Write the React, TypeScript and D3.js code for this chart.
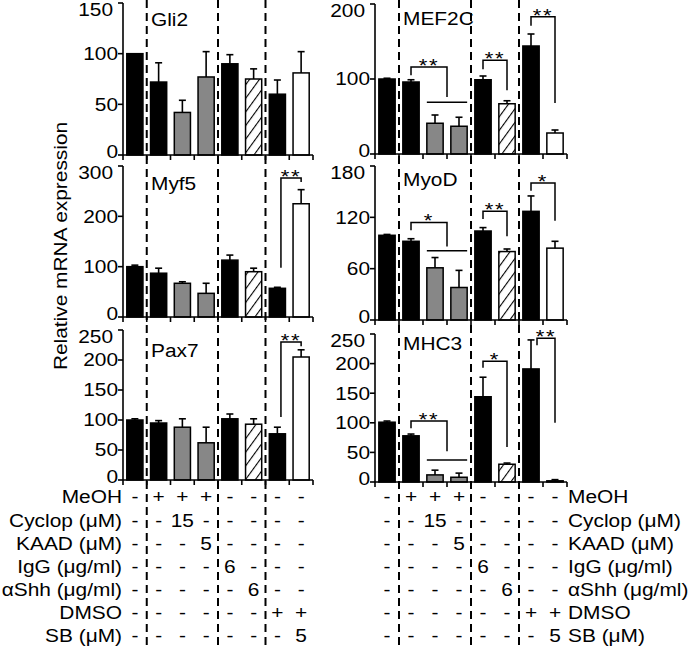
import React from "react";
import * as d3 from "d3";

const FONT = "Liberation Sans, Arial, sans-serif";
const STRETCH = 1.16; // the figure's type is drawn wide

// fill kind of each bar, left to right, same in every panel
const barKinds = ["black", "black", "gray", "gray", "black", "hatch", "black", "white"];

const gli2Values = [100, 72, 42, 77, 90, 75, 60, 81];
const gli2Errors = [0, 19, 12, 25, 9, 10, 14, 21];
const gli2Ticks = [0, 50, 100, 150];

const mef2cValues = [100, 96, 41, 37, 99, 67, 144, 28];
const mef2cErrors = [1, 3, 11, 12, 5, 4, 16, 4];
const mef2cTicks = [0, 100, 200];
const mef2cBrackets = [
  { left: 1, right: 2.5, top: 116, leftEnd: 105, rightEnd: 76, group: 69, label: "**" },
  { left: 4, right: 5, top: 125, leftEnd: 113, rightEnd: 85, label: "**" },
  { left: 6, right: 7, top: 183, leftEnd: 171, rightEnd: 68, label: "**" },
];

const myf5Values = [100, 87, 67, 47, 113, 90, 57, 225];
const myf5Errors = [3, 10, 3, 20, 10, 7, 2, 28];
const myf5Ticks = [0, 100, 200, 300];
const myf5Brackets = [
  { left: 6.15, right: 7, top: 276, leftEnd: 98, rightEnd: 268, label: "**" },
];

const myodValues = [99, 92, 61, 38, 104, 80, 127, 84];
const myodErrors = [1, 3, 12, 20, 4, 3, 18, 8];
const myodTicks = [0, 60, 120, 180];
const myodBrackets = [
  { left: 1, right: 2.5, top: 114, leftEnd: 105, rightEnd: 86, group: 81, label: "*" },
  { left: 4, right: 5, top: 127, leftEnd: 118, rightEnd: 98, label: "**" },
  { left: 6, right: 7, top: 160, leftEnd: 151, rightEnd: 116, label: "*" },
];

const pax7Values = [100, 95, 88, 62, 102, 93, 77, 205];
const pax7Errors = [2, 4, 14, 26, 8, 9, 11, 12];
const pax7Ticks = [0, 50, 100, 150, 200, 250];
const pax7Brackets = [
  { left: 6.15, right: 7, top: 230, leftEnd: 105, rightEnd: 223, label: "**" },
];

const mhc3Values = [101, 78, 12, 8, 144, 30, 191, 2];
const mhc3Errors = [2, 3, 8, 7, 33, 2, 49, 2];
const mhc3Ticks = [0, 50, 100, 150, 200, 250];
const mhc3Brackets = [
  { left: 1, right: 2.5, top: 103, leftEnd: 91, rightEnd: 52, group: 37, label: "**" },
  { left: 4, right: 5, top: 204, leftEnd: 193, rightEnd: 59, label: "*" },
  { left: 6.25, right: 7, top: 243, leftEnd: 231, rightEnd: 100, label: "**" },
];

const tableLabels = ["MeOH", "Cyclop (\u03bcM)", "KAAD (\u03bcM)", "IgG (\u03bcg/ml)", "\u03b1Shh (\u03bcg/ml)", "DMSO", "SB (\u03bcM)"];
const tableValues = [
  ["-", "+", "+", "+", "-", "-", "-", "-"],
  ["-", "-", "15", "-", "-", "-", "-", "-"],
  ["-", "-", "-", "5", "-", "-", "-", "-"],
  ["-", "-", "-", "-", "6", "-", "-", "-"],
  ["-", "-", "-", "-", "-", "6", "-", "-"],
  ["-", "-", "-", "-", "-", "-", "+", "+"],
  ["-", "-", "-", "-", "-", "-", "-", "5"],
];
const groupBreaks = [1, 4, 6];

// layout
const leftCol = { x0: 123, x1: 313 };
const rightCol = { x0: 375, x1: 567 };
const panels = [
  { name: "Gli2", values: gli2Values, errors: gli2Errors, ticks: gli2Ticks, brackets: [], col: leftCol, top: 3, bottom: 155, titleDy: 23 },
  { name: "Myf5", values: myf5Values, errors: myf5Errors, ticks: myf5Ticks, brackets: myf5Brackets, col: leftCol, top: 166, bottom: 317, titleDy: 24 },
  { name: "Pax7", values: pax7Values, errors: pax7Errors, ticks: pax7Ticks, brackets: pax7Brackets, col: leftCol, top: 330, bottom: 480, titleDy: 27 },
  { name: "MEF2C", values: mef2cValues, errors: mef2cErrors, ticks: mef2cTicks, brackets: mef2cBrackets, col: rightCol, top: 4, bottom: 154, titleDy: 21 },
  { name: "MyoD", values: myodValues, errors: myodErrors, ticks: myodTicks, brackets: myodBrackets, col: rightCol, top: 166, bottom: 320, titleDy: 20 },
  { name: "MHC3", values: mhc3Values, errors: mhc3Errors, ticks: mhc3Ticks, brackets: mhc3Brackets, col: rightCol, top: 334, bottom: 482, titleDy: 16 },
];

const bandFor = (col) =>
  d3.scaleBand().domain(d3.range(8).map(String)).range([col.x0, col.x1]).paddingInner(0.32).paddingOuter(0.16);

const fillFor = (kind) =>
  kind === "black" ? "#000" : kind === "gray" ? "#878787" : kind === "hatch" ? "url(#hatch)" : "#fff";

// text stretched horizontally around its anchor point
const Txt = ({ x, y, anchor = "start", size = 18, central = false, rotate = 0, children, spacing = 0 }) => (
  <text
    transform={`translate(${x},${y})${rotate ? ` rotate(${rotate})` : ""} scale(${STRETCH},1)`}
    textAnchor={anchor}
    dominantBaseline={central ? "central" : "auto"}
    fontSize={size}
    fontFamily={FONT}
    letterSpacing={spacing}
  >
    {children}
  </text>
);

const Panel = ({ p }) => {
  const x = bandFor(p.col);
  const y = d3.scaleLinear().domain([0, p.ticks[p.ticks.length - 1]]).range([p.bottom, p.top]);
  const bw = x.bandwidth();
  const center = (i) => p.col.x0 + x.step() * (i + 0.5);
  const last = p.ticks[p.ticks.length - 1];

  return (
    <g>
      {p.values.map((v, i) => (
        <g key={i}>
          <rect
            x={x(String(i))}
            y={y(v)}
            width={bw}
            height={y(0) - y(v)}
            fill={fillFor(barKinds[i])}
            stroke="#000"
            strokeWidth={1.5}
          />
          {p.errors[i] > 0 && (
            <g stroke="#000" strokeWidth={1.6}>
              <line x1={center(i)} x2={center(i)} y1={y(v)} y2={y(v + p.errors[i])} />
              <line x1={center(i) - 3.5} x2={center(i) + 3.5} y1={y(v + p.errors[i])} y2={y(v + p.errors[i])} />
            </g>
          )}
        </g>
      ))}

      {/* y axis */}
      <line x1={p.col.x0} x2={p.col.x0} y1={y(0)} y2={y(last)} stroke="#000" strokeWidth={1.6} />
      {p.ticks.map((t) => (
        <g key={t}>
          <line x1={p.col.x0 - 5} x2={p.col.x0} y1={y(t)} y2={y(t)} stroke="#000" strokeWidth={1.6} />
          <Txt
            x={p.col.x0 - 5 - (t === last ? 5 : 0)}
            y={y(t) + (t === last ? 7 : t === 0 ? -3 : 0)}
            anchor="end"
            central
          >
            {t}
          </Txt>
        </g>
      ))}

      {/* x axis */}
      <line x1={p.col.x0} x2={p.col.x1} y1={y(0)} y2={y(0)} stroke="#000" strokeWidth={1.6} />
      {d3.range(9).map((k) => (
        <line
          key={k}
          x1={p.col.x0 + x.step() * k}
          x2={p.col.x0 + x.step() * k}
          y1={y(0)}
          y2={y(0) + 5}
          stroke="#000"
          strokeWidth={1.6}
        />
      ))}

      <Txt x={p.col.x0 + 28} y={p.top + p.titleDy}>
        {p.name}
      </Txt>

      {p.brackets.map((b, j) => {
        const xl = center(b.left);
        const xr = center(b.right);
        return (
          <g key={j}>
            <path
              d={`M${xl},${y(b.leftEnd)}V${y(b.top)}H${xr}V${y(b.rightEnd)}`}
              fill="none"
              stroke="#000"
              strokeWidth={1.5}
            />
            {b.group !== undefined && (
              <line x1={x("2")} x2={x("3") + bw} y1={y(b.group)} y2={y(b.group)} stroke="#000" strokeWidth={1.5} />
            )}
            <Txt x={(xl + xr) / 2} y={y(b.top) + 5} anchor="middle" size={19} spacing={1.5}>
              {b.label}
            </Txt>
          </g>
        );
      })}
    </g>
  );
};

const Table = ({ col, side }) => {
  const x = bandFor(col);
  const center = (i) => col.x0 + x.step() * (i + 0.5);
  const rowY = d3.scalePoint().domain(tableLabels).range([497, 636]);
  return (
    <g>
      {tableLabels.map((lab, r) => (
        <g key={lab}>
          <Txt
            x={side === "left" ? col.x0 - 1 : col.x1 + 1}
            y={rowY(lab)}
            anchor={side === "left" ? "end" : "start"}
            central
          >
            {lab}
          </Txt>
          {tableValues[r].map((v, i) => (
            <Txt key={i} x={center(i)} y={rowY(lab)} anchor="middle" central>
              {v}
            </Txt>
          ))}
        </g>
      ))}
    </g>
  );
};

const Dashes = ({ col }) => {
  const x = bandFor(col);
  return (
    <g>
      {groupBreaks.map((k) => (
        <line
          key={k}
          x1={col.x0 + x.step() * k}
          x2={col.x0 + x.step() * k}
          y1={0}
          y2={645}
          stroke="#000"
          strokeWidth={2}
          strokeDasharray="8,5"
        />
      ))}
    </g>
  );
};

export default function App() {
  return (
    <svg width={693} height={650} style={{ position: "absolute", left: 0, top: 0, background: "#fff" }}>
      <defs>
        <pattern id="hatch" patternUnits="userSpaceOnUse" width={8} height={8} patternTransform="rotate(36)">
          <rect width={8} height={8} fill="#fff" />
          <line x1={0} y1={0} x2={0} y2={8} stroke="#000" strokeWidth={2.2} />
        </pattern>
      </defs>
      <rect width={693} height={650} fill="#fff" />
      <Dashes col={leftCol} />
      <Dashes col={rightCol} />
      {panels.map((p) => (
        <Panel key={p.name} p={p} />
      ))}
      <Table col={leftCol} side="left" />
      <Table col={rightCol} side="right" />
      <Txt x={67} y={246} rotate={-90} anchor="middle">
        Relative mRNA expression
      </Txt>
    </svg>
  );
}
